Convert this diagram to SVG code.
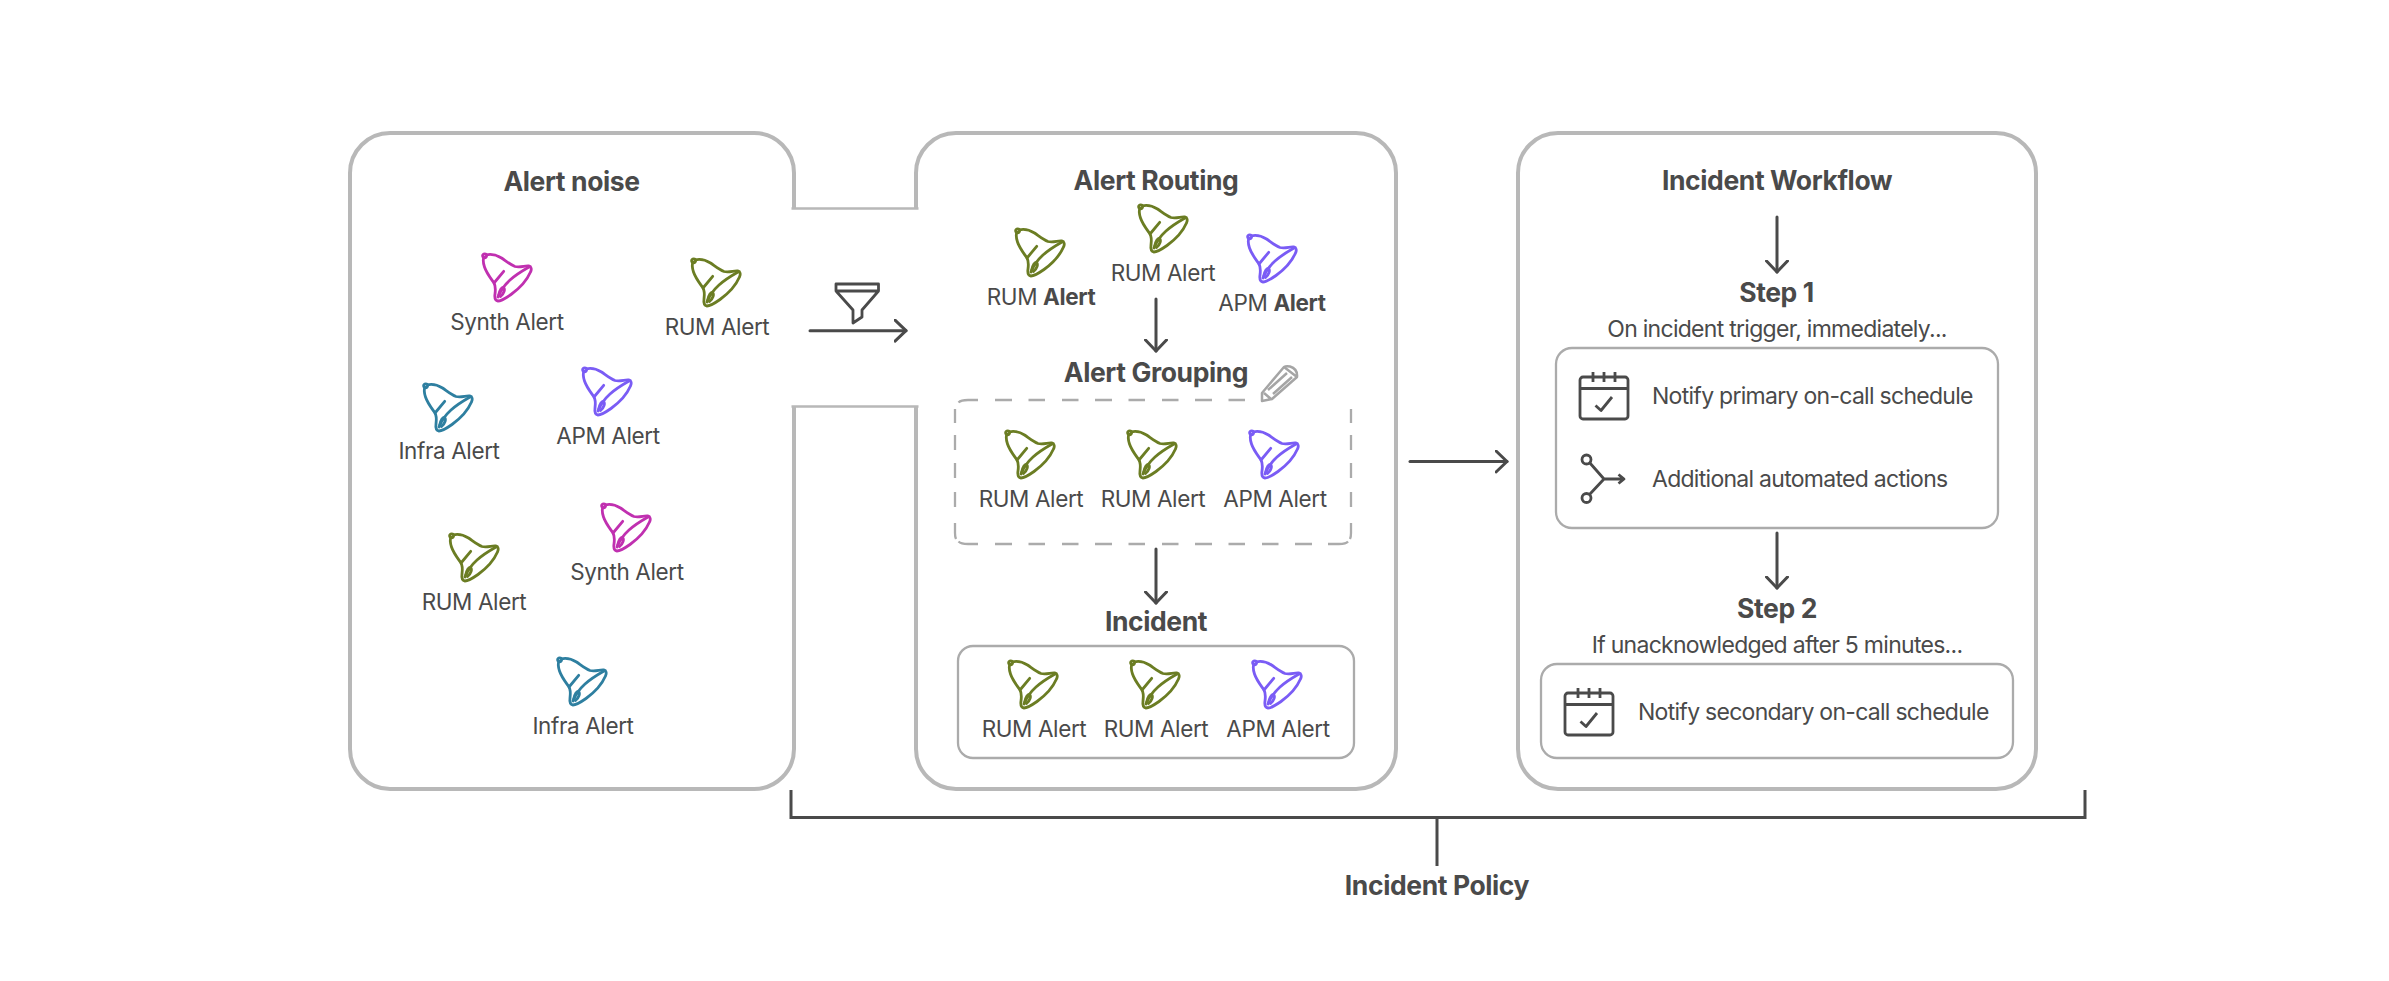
<svg xmlns="http://www.w3.org/2000/svg" xmlns:xlink="http://www.w3.org/1999/xlink" width="2389" height="981" viewBox="0 0 2389 981">
<style>
text{font-family:Inter,"Liberation Sans",sans-serif;fill:#4a4a4a;text-anchor:middle}
.t{font-size:26.5px;font-weight:700;letter-spacing:-.4px}
.l{font-size:22.5px;font-weight:400;letter-spacing:-.38px}
.w{font-size:23px;font-weight:400;letter-spacing:-.72px}
.b{font-weight:700}
.s{text-anchor:start}
.panel{fill:none;stroke:#b8b8b8;stroke-width:4}
.notch{fill:none;stroke:#b8b8b8;stroke-width:2.600}
.inner{fill:none;stroke:#ababab;stroke-width:2.300}
.dash{fill:none;stroke:#ababab;stroke-width:2.300}
.line{fill:none;stroke:#4a4a4a;stroke-width:3;stroke-linecap:round;stroke-linejoin:round}
.ic{fill:none;stroke:#4a4a4a;stroke-width:2.800;stroke-linejoin:round}
.rum{stroke:#6b7d23}.syn{stroke:#c030b0}.inf{stroke:#2e7fa0}.apm{stroke:#7a5cf5}
</style>
<defs>
<g id="bell" fill="none" stroke-width="2.800" stroke-linecap="round" stroke-linejoin="round">
<circle cx="2.600" cy="2.800" r="2"/>
<path d="M4.500 1.800C10 .6 15 2.200 19.500 5C24 8 28 11.500 33 13.500C38 15 43 12.500 46.800 13C49.500 13.500 49.800 16.500 48.500 19C45 27 38 35 29 41.500C24 45 19.500 48 16 48C13 47.500 12.500 44.500 13 41C13.500 37 14 33.500 12 30C8.500 25 4.500 20 2.500 14C1.200 10 1 6 2 4"/>
<path d="M47 14C40 18 33 22.500 28 27C23 31.500 19 36.500 16 44"/>
<path d="M21.700 18.300L12 30"/>
<path d="M16.500 42.500C17.500 38 19.500 34.500 21.500 34.500C23.500 36 22 40.500 18.500 43.500"/>
</g>
<g id="cal" class="ic">
<rect x="0" y="5" width="48" height="42" rx="3"/>
<path d="M0 16.500H48M13 0V10M24 0V10M35 0V10"/>
<path d="M15.500 33.500L21 38.500L32 25"/>
</g>
<marker id="arr" viewBox="0 0 14 24" refX="12.500" refY="12" markerWidth="14" markerHeight="24" markerUnits="userSpaceOnUse" orient="auto">
<path d="M1.500 1.500L12.500 12L1.500 22.500" fill="none" stroke="#4a4a4a" stroke-width="3" stroke-linecap="round" stroke-linejoin="round"/>
</marker>
</defs>
<rect width="2389" height="981" fill="#fff"/>

<g id="connectors">
<path class="notch" d="M791.500 208.500H918.500M791.500 406.500H918.500"/>
<path class="line" marker-end="url(#arr)" d="M810 330.700H906"/>
<path class="line" marker-end="url(#arr)" d="M1156 299V351"/>
<path class="line" marker-end="url(#arr)" d="M1156 549V603"/>
<path class="line" marker-end="url(#arr)" d="M1410 461.500H1507"/>
<path class="line" marker-end="url(#arr)" d="M1777 217V272"/>
<path class="line" marker-end="url(#arr)" d="M1777 533V588"/>
<path class="line" style="stroke-linecap:butt;stroke-linejoin:miter" d="M791 790V817.500H2085V790M1437 817.500V866"/>
</g>

<g id="alert-noise">
<path class="panel" d="M794 208.500V173A40 40 0 0 0 754 133H390A40 40 0 0 0 350 173V749A40 40 0 0 0 390 789H754A40 40 0 0 0 794 749V406.500"/>
<text class="t" x="571.500" y="191">Alert noise</text>
<use href="#bell" class="syn" x="482" y="253"/><text class="l" x="507" y="330">Synth Alert</text>
<use href="#bell" class="rum" x="691" y="258"/><text class="l" x="717" y="335">RUM Alert</text>
<use href="#bell" class="inf" x="423" y="383"/><text class="l" x="449" y="459">Infra Alert</text>
<use href="#bell" class="apm" x="582" y="367"/><text class="l" x="608" y="444">APM Alert</text>
<use href="#bell" class="rum" x="449" y="533"/><text class="l" x="474" y="610">RUM Alert</text>
<use href="#bell" class="syn" x="601" y="503"/><text class="l" x="627" y="580">Synth Alert</text>
<use href="#bell" class="inf" x="557" y="657"/><text class="l" x="583" y="734">Infra Alert</text>
</g>

<g id="filter">
<path class="ic" d="M836 284H878.500V291H836ZM836 291L853 310V323L862 317V310L878.500 291"/>
</g>

<g id="alert-routing">
<path class="panel" d="M916 208.500V173A40 40 0 0 1 956 133H1356A40 40 0 0 1 1396 173V749A40 40 0 0 1 1356 789H956A40 40 0 0 1 916 749V406.500"/>
<text class="t" x="1156" y="190">Alert Routing</text>
<use href="#bell" class="rum" x="1015" y="228"/><text class="l" x="1041" y="305">RUM <tspan class="b">Alert</tspan></text>
<use href="#bell" class="rum" x="1138" y="204"/><text class="l" x="1163" y="281">RUM Alert</text>
<use href="#bell" class="apm" x="1247" y="234"/><text class="l" x="1272" y="311">APM <tspan class="b">Alert</tspan></text>
</g>

<g id="alert-grouping">
<text class="t" x="1156" y="382">Alert Grouping</text>
<path class="dash" d="M978 400H968Q961 400 958.500 402.500M995 400H1012M1028.500 400H1045M1062 400H1078.500M1095 400H1112M1128.500 400H1145M1162 400H1178.500M1195 400H1212M1228.500 400H1245"/>
<path class="dash" d="M978 544H968Q961 544 958.500 541.500M995 544H1012M1028.500 544H1045M1062 544H1078.500M1095 544H1112M1128.500 544H1145M1162 544H1178.500M1195 544H1212M1228.500 544H1245M1262 544H1278.500M1295 544H1312M1328 544H1339Q1346 544 1348 541.500"/>
<path class="dash" d="M955 409V423M955 435V450M955 463V478M955 492V507M955 523V533Q955 537 956 539"/>
<path class="dash" d="M1351 409V423M1351 435V450M1351 463V478M1351 492V507M1351 523V533Q1351 537 1350 539"/>
<path fill="none" stroke="#a5a5a5" stroke-width="2.500" stroke-linejoin="round" d="M1262 393V401L1272 399L1297 377C1297.500 372 1295 368 1290 366.500C1287.500 366 1285.500 366 1284 367ZM1264 393L1271 399M1284 367L1297 377M1268 390L1287 373M1273 394L1292 377"/>
<use href="#bell" class="rum" x="1005" y="430"/><text class="l" x="1031" y="507">RUM Alert</text>
<use href="#bell" class="rum" x="1127" y="430"/><text class="l" x="1153" y="507">RUM Alert</text>
<use href="#bell" class="apm" x="1249" y="430"/><text class="l" x="1275" y="507">APM Alert</text>
</g>

<g id="incident">
<text class="t" x="1156" y="631">Incident</text>
<rect class="inner" x="958" y="646" width="396" height="112" rx="15"/>
<use href="#bell" class="rum" x="1008" y="660"/><text class="l" x="1034" y="737">RUM Alert</text>
<use href="#bell" class="rum" x="1130" y="660"/><text class="l" x="1156" y="737">RUM Alert</text>
<use href="#bell" class="apm" x="1252" y="660"/><text class="l" x="1278" y="737">APM Alert</text>
</g>

<g id="incident-workflow">
<rect class="panel" x="1518" y="133" width="518" height="656" rx="40"/>
<text class="t" x="1777" y="190">Incident Workflow</text>
</g>

<g id="step-1">
<text class="t" x="1776.500" y="302">Step 1</text>
<text class="w" x="1777" y="337">On incident trigger, immediately...</text>
<rect class="inner" x="1556" y="348" width="442" height="180" rx="16"/>
<use href="#cal" x="1580" y="372"/>
<text class="w s" x="1652" y="404">Notify primary on-call schedule</text>
<path class="ic" d="M1589.500 462.500L1604 479L1589.500 494.500M1604 479H1623M1618.500 474.500L1624 479L1618.500 483.500"/>
<circle class="ic" cx="1586.500" cy="459.500" r="4.500"/>
<circle class="ic" cx="1586.500" cy="498" r="4.500"/>
<text class="w s" x="1652" y="487">Additional automated actions</text>
</g>

<g id="step-2">
<text class="t" x="1777" y="618">Step 2</text>
<text class="w" x="1777" y="653">If unacknowledged after 5 minutes...</text>
<rect class="inner" x="1541" y="664" width="472" height="94" rx="16"/>
<use href="#cal" x="1565" y="688"/>
<text class="w s" x="1638" y="720">Notify secondary on-call schedule</text>
</g>

<g id="incident-policy">
<text class="t" x="1437" y="895">Incident Policy</text>
</g>
</svg>
